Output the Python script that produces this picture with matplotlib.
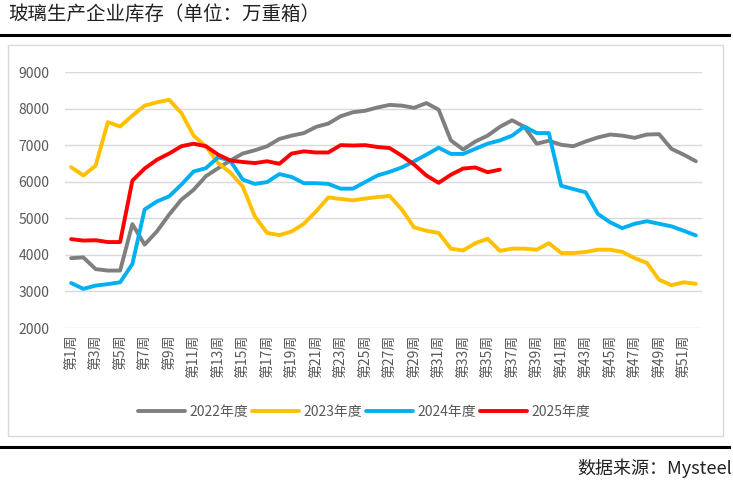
import matplotlib.pyplot as plt
from matplotlib.lines import Line2D
from matplotlib.patches import Rectangle
import numpy as np

plt.rcParams['font.family'] = ['Noto Sans CJK SC', 'DejaVu Sans']

weeks = ['第%d周' % i for i in range(1, 53)]

y2022 = [3910, 3930, 3610, 3570, 3570, 4840, 4280, 4640, 5100, 5510,
         5780, 6150, 6370, 6580, 6770, 6860, 6970, 7170, 7260, 7330,
         7500, 7590, 7790, 7900, 7940, 8030, 8100, 8080, 8020, 8150,
         7970, 7130, 6880, 7100, 7260, 7500, 7680, 7500, 7040, 7120,
         7010, 6970, 7100, 7210, 7290, 7260, 7200, 7290, 7300, 6900,
         6740, 6560]
y2023 = [6400, 6170, 6440, 7630, 7510, 7810, 8080, 8170, 8240, 7880,
         7260, 6970, 6510, 6250, 5870, 5050, 4600, 4540, 4640, 4850,
         5190, 5570, 5530, 5490, 5540, 5580, 5610, 5240, 4750, 4660,
         4600, 4170, 4120, 4320, 4440, 4110, 4170, 4170, 4140, 4320,
         4050, 4050, 4080, 4140, 4140, 4080, 3910, 3780, 3320, 3170,
         3250, 3210]
y2024 = [3230, 3070, 3160, 3200, 3250, 3750, 5240, 5460, 5600, 5920,
         6280, 6370, 6670, 6570, 6060, 5940, 5990, 6210, 6130, 5960,
         5960, 5940, 5810, 5810, 5990, 6170, 6270, 6390, 6560, 6740,
         6930, 6760, 6760, 6900, 7040, 7130, 7260, 7510, 7330, 7330,
         5890, 5800, 5710, 5120, 4890, 4730, 4850, 4920, 4850, 4780,
         4660, 4530]
y2025 = [4430, 4390, 4400, 4350, 4350, 6030, 6360, 6600, 6770, 6970,
         7040, 6970, 6740, 6580, 6540, 6510, 6560, 6490, 6770, 6830,
         6800, 6800, 7000, 6990, 7000, 6950, 6920, 6710, 6470, 6170,
         5970, 6190, 6360, 6390, 6260, 6330]

series = [('2022年度', y2022, '#7F7F7F'),
          ('2023年度', y2023, '#FFC000'),
          ('2024年度', y2024, '#00B0F0'),
          ('2025年度', y2025, '#FF0000')]

fig = plt.figure(figsize=(7.33, 4.87), dpi=100)
W, H = 733, 487

# frame and rules
fig.add_artist(Rectangle((8 / W, 1 - 436 / H), 715 / W, 391 / H,
                         transform=fig.transFigure, fill=False,
                         edgecolor='#D9D9D9', linewidth=1))
fig.add_artist(Line2D([0, 729 / W], [1 - 35 / H] * 2, color='black', linewidth=2.2))
fig.add_artist(Line2D([0, 729 / W], [1 - 447 / H] * 2, color='black', linewidth=2.2))

fig.text(8 / W, 1 - 14 / H, '玻璃生产企业库存（单位：万重箱）', fontsize=14,
         color='#222222', ha='left', va='center')
fig.text(732 / W, 1 - 468 / H, '数据来源：Mysteel', fontsize=13,
         color='#222222', ha='right', va='center')

ax = fig.add_axes([65 / W, 1 - 328 / H, 637 / W, 256 / H])
x = np.arange(len(weeks))
handles = []
for name, vals, col in series:
    h, = ax.plot(x[:len(vals)], vals, color=col, linewidth=2.8, label=name,
                 solid_capstyle='round', solid_joinstyle='round')
    handles.append(h)

ax.set_ylim(2000, 9000)
ax.set_yticks(range(2000, 9001, 1000))
ax.set_xlim(-0.5, len(weeks) - 0.5)
ax.set_xticks(x[::2])
ax.set_xticklabels(weeks[::2], rotation=90, fontsize=10, color='#595959')
ax.tick_params(axis='y', labelsize=10, colors='#595959', length=0, pad=11)
ax.tick_params(axis='x', length=0, pad=5)
ax.grid(axis='y', color='#D9D9D9', linewidth=1)
ax.set_axisbelow(True)
for s in ax.spines.values():
    s.set_visible(False)

fig.legend(handles=handles, loc='center', bbox_to_anchor=(364 / W, 1 - 412 / H),
           ncol=4, frameon=False, fontsize=10, labelcolor='#595959',
           handlelength=3.4, handletextpad=0.3, columnspacing=0.3)

fig.savefig('out.png', dpi=100)
